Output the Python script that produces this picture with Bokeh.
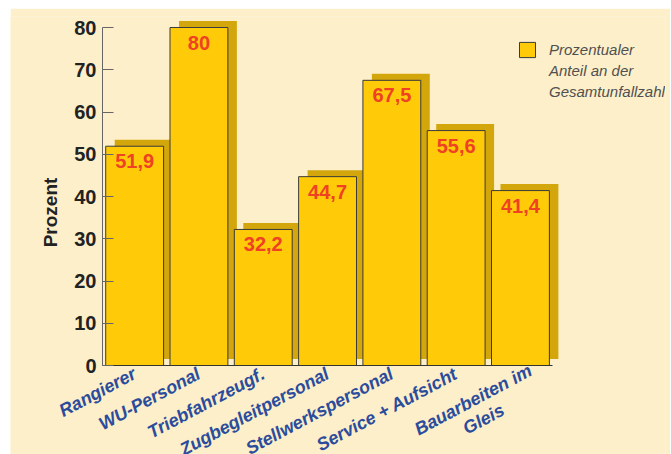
from bokeh.plotting import figure
from bokeh.models import (Range1d, FixedTicker, Legend, LegendItem, ColumnDataSource,
                          Label, Spacer)
from bokeh.layouts import column, row
from bokeh.core.properties import value
from bokeh.embed import file_html
from bokeh.resources import INLINE

# ---- data ----
categories = ["Rangierer", "WU-Personal", "Triebfahrzeugf.", "Zugbegleitpersonal",
              "Stellwerkspersonal", "Service + Aufsicht", "Bauarbeiten im\nGleis"]
values = [51.9, 80, 32.2, 44.7, 67.5, 55.6, 41.4]
y_ticks = [0, 10, 20, 30, 40, 50, 60, 70, 80]
y_title = "Prozent"
legend_lines = ["Prozentualer", "Anteil an der", "Gesamtunfallzahl"]

# ---- styling ----
BG = "#FCEFC9"
BAR = "#FFCB08"
SHADOW = "#D3A60C"
RED = "#EF4123"
BLUE = "#2B4C9C"
FONT = "Liberation Sans"

W, H = 660, 446
TOP, RIGHT, BOTTOM = 8, 5, 0
AXIS_X = 92                       # figure-pixel column of the y axis
ZERO_Y = 357                      # figure-pixel row of value 0
frame_w = W - RIGHT
frame_h = H - TOP - BOTTOM
px_per_x = 64.3
x_start = 0.5 - AXIS_X / px_per_x
x_end = x_start + frame_w / px_per_x
px_per_y = 338 / 80.0
y_end = (ZERO_Y - TOP) / px_per_y
y_start = -(H - BOTTOM - ZERO_Y) / px_per_y

xs = list(range(1, len(categories) + 1))
label_text = [("%g" % v).replace(".", ",") for v in values]

# shadow offsets (screen px converted to data)
dx = 9 / px_per_x
dy = 6.5 / px_per_y

src = ColumnDataSource(dict(
    x=xs, top=values, label=label_text,
    sx=[x + dx for x in xs],
    stop=[v + dy for v in values],
    sbottom=[dy for _ in values],
))

p = figure(width=W, height=H, output_backend="svg", toolbar_location=None,
           x_range=Range1d(x_start, x_end), y_range=Range1d(y_start, y_end),
           min_border_left=0, min_border_top=TOP, min_border_bottom=BOTTOM,
           min_border_right=RIGHT)
p.background_fill_color = BG
p.border_fill_color = BG
p.outline_line_color = None
p.grid.visible = False

# shadows
p.vbar(x="sx", top="stop", bottom="sbottom", width=0.9, source=src,
       fill_color=SHADOW, line_color=None)
# bars
bars = p.vbar(x="x", top="top", bottom=0, width=0.9, source=src,
              fill_color=BAR, line_color="#3a3a3a", line_width=1)
# value labels
p.text(x="x", y="top", text="label", source=src, text_align="center",
       text_baseline="top", y_offset=8, text_color=RED,
       text_font=value(FONT), text_font_style="bold", text_font_size="20px")

# y axis at x = 0.5
ya = p.yaxis[0]
ya.fixed_location = 0.5
ya.ticker = FixedTicker(ticks=y_ticks)
ya.bounds = (0, 80)
ya.major_label_text_font = FONT
ya.major_label_text_font_style = "bold"
ya.major_label_text_font_size = "20px"
ya.major_label_text_color = "#222222"
ya.major_label_standoff = 6
ya.major_tick_in = 11
ya.major_tick_out = 0
ya.minor_tick_line_color = None
ya.axis_line_color = "#666666"
ya.major_tick_line_color = "#666666"

# y title
p.add_layout(Label(x=0.5 - 52 / px_per_x, y=(365 - 212) / px_per_y, text=y_title,
                   angle=1.5708, text_align="center", text_baseline="middle",
                   text_font=FONT, text_font_style="bold", text_font_size="19px",
                   text_color="#222222"))

# x axis at value 0 (line only; category names drawn as rotated labels below)
xa = p.xaxis[0]
xa.fixed_location = 0
xa.ticker = FixedTicker(ticks=xs)
xa.major_label_overrides = {x: "" for x in xs}
xa.major_label_text_font_size = "1px"
xa.major_label_standoff = 0
xa.bounds = (0.5, 7.5)
xa.major_tick_in = 0
xa.major_tick_out = 0
xa.minor_tick_line_color = None
xa.axis_line_color = "#333333"

ANG = 0.49
for x, cat in zip(xs, categories):
    if "\n" in cat:
        lab = Label(x=x - 42 / px_per_x, y=-44 / px_per_y, text=cat,
                    text_align="center", text_baseline="middle")
        lab.text_line_height = 1.1
    else:
        lab = Label(x=x + 0 / px_per_x, y=-7 / px_per_y, text=cat,
                    text_align="right", text_baseline="middle")
    lab.angle = ANG
    lab.text_font = FONT
    lab.text_font_style = "bold italic"
    lab.text_font_size = "18px"
    lab.text_color = BLUE
    p.add_layout(lab)

# legend (square + three text lines)
blank1 = p.vbar(x=[], top=[], width=0.9, fill_alpha=0, line_alpha=0)
blank2 = p.vbar(x=[], top=[], width=0.9, fill_alpha=0, line_alpha=0)
legend = Legend(items=[LegendItem(label=legend_lines[0], renderers=[bars]),
                       LegendItem(label=legend_lines[1], renderers=[blank1]),
                       LegendItem(label=legend_lines[2], renderers=[blank2])],
                location=(507, frame_h - (32 - TOP) - 61),
                glyph_width=20, glyph_height=19, spacing=2, padding=0, margin=0,
                label_standoff=12, label_text_font=FONT,
                label_text_font_style="italic", label_text_font_size="15px",
                label_text_color="#505050", background_fill_alpha=0,
                border_line_color=None)
p.add_layout(legend)

layout = column(Spacer(height=8), row(Spacer(width=10), p))
open("out.html", "w").write(file_html(layout, INLINE))
